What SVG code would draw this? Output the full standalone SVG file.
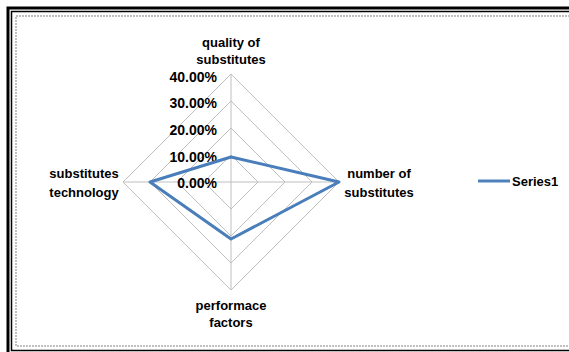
<svg xmlns="http://www.w3.org/2000/svg" width="569" height="352" viewBox="0 0 569 352">
<style>
.lbl{font-family:"Liberation Sans",Arial,sans-serif;font-weight:bold;font-size:13px;fill:#000;text-anchor:middle}
.tick{font-family:"Liberation Sans",Arial,sans-serif;font-weight:bold;font-size:14px;fill:#000;text-anchor:end}
.grid{fill:none;stroke:#bfbfbf;stroke-width:1}
.series{fill:none;stroke:#4a7ebb;stroke-width:3;stroke-linejoin:round}
</style>
<rect width="569" height="352" fill="#fff"/>
<g id="frame">
<rect x="8" y="8" width="600" height="360" fill="none" stroke="#000" stroke-width="3"/>
<rect x="11.5" y="11.5" width="600" height="339" fill="none" stroke="#000" stroke-width="1.5"/>
<rect x="16" y="16" width="600" height="330" fill="none" stroke="#c0c0c0" stroke-width="2" stroke-dasharray="2 1"/>
</g>
<g id="grid">
<polygon class="grid" points="231,155 258,182 231,209 204,182"/>
<polygon class="grid" points="231,128 285,182 231,236 177,182"/>
<polygon class="grid" points="231,101 312,182 231,263 150,182"/>
<polygon class="grid" points="231,74 339,182 231,290 123,182"/>
<line class="grid" x1="231" y1="74" x2="231" y2="290"/>
<line class="grid" x1="123" y1="182" x2="339" y2="182"/>
</g>
<g id="ticks">
<text class="tick" x="217" y="82">40.00%</text>
<text class="tick" x="217" y="108">30.00%</text>
<text class="tick" x="217" y="135">20.00%</text>
<text class="tick" x="217" y="162">10.00%</text>
<text class="tick" x="217" y="188">0.00%</text>
</g>
<g id="axis-quality">
<text class="lbl" x="231" y="47">quality of</text>
<text class="lbl" x="231" y="64">substitutes</text>
</g>
<g id="axis-number">
<text class="lbl" x="379" y="178">number of</text>
<text class="lbl" x="379" y="197">substitutes</text>
</g>
<g id="axis-performance">
<text class="lbl" x="231" y="310">performace</text>
<text class="lbl" x="231" y="327">factors</text>
</g>
<g id="axis-technology">
<text class="lbl" x="84" y="178">substitutes</text>
<text class="lbl" x="84" y="197">technology</text>
</g>
<g id="connectors">
<polygon class="series" points="231,157 339,182 231,239 150,182"/>
</g>
<g id="legend">
<line x1="478" y1="181" x2="510" y2="181" stroke="#4f81bd" stroke-width="3"/>
<text class="lbl" x="512" y="186" style="text-anchor:start">Series1</text>
</g>
</svg>
